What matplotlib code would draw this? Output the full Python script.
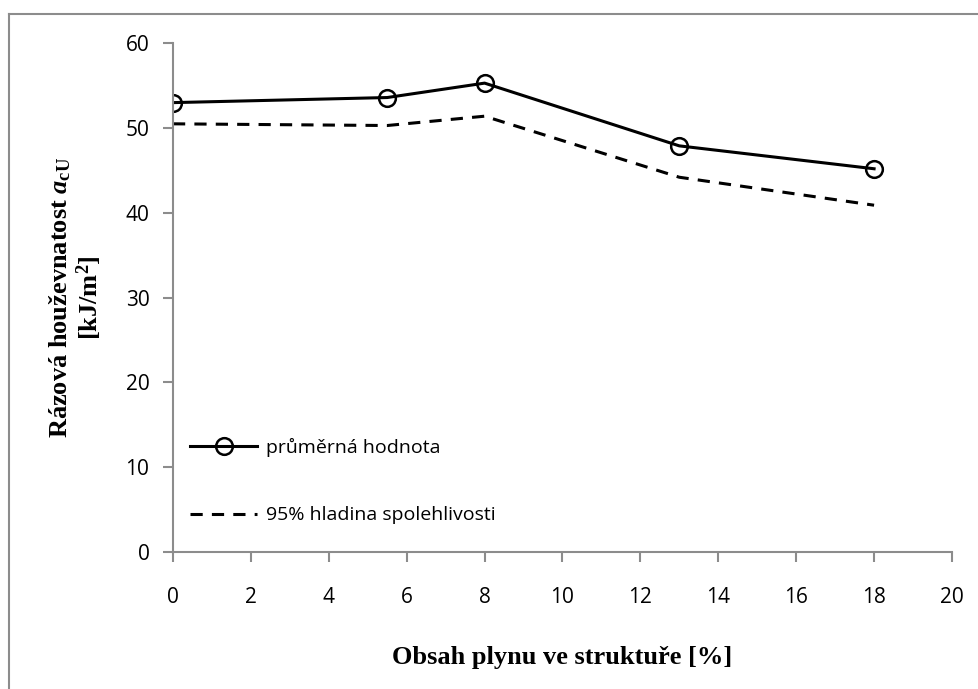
import matplotlib
matplotlib.use("Agg")
import matplotlib.pyplot as plt
from matplotlib.lines import Line2D

# data
gas_content = [0, 5.5, 8, 13, 18]
mean_value = [53.0, 53.6, 55.3, 47.9, 45.2]
conf_95 = [50.5, 50.3, 51.4, 44.2, 40.9]

x_ticks = list(range(0, 21, 2))
y_ticks = list(range(0, 61, 10))

plt.rcParams.update(
    {
        "font.family": ["Open Sans", "DejaVu Sans"],
        "mathtext.fontset": "custom",
        "mathtext.rm": "Liberation Serif:bold",
        "mathtext.it": "Liberation Serif:italic:bold",
        "mathtext.bf": "Liberation Serif:bold",
    }
)

fig = plt.figure(figsize=(9.79, 6.89), dpi=100)
ax = fig.add_axes([0.1767, 0.1988, 0.7957, 0.7384])

ax.plot(gas_content, mean_value, color="black", lw=2.2, marker="o", ms=12,
        mfc="none", mec="black", mew=1.8, label="průměrná hodnota")
ax.plot(gas_content, conf_95, color="black", lw=2.2, ls=(0, (4, 3)),
        label="95% hladina spolehlivosti")

ax.set_xlim(0, 20)
ax.set_ylim(0, 60)
ax.set_xticks(x_ticks)
ax.set_yticks(y_ticks)

grey = "#8c8c8c"
for side in ("top", "right"):
    ax.spines[side].set_visible(False)
for side in ("left", "bottom"):
    ax.spines[side].set_color(grey)
    ax.spines[side].set_linewidth(1.5)
ax.tick_params(axis="both", colors=grey, width=1.5, length=7, labelcolor="black",
               labelsize=15)
ax.tick_params(axis="x", pad=18)
ax.tick_params(axis="y", pad=10)
ax.patch.set_visible(False)

ax.set_xlabel("Obsah plynu ve struktuře [%]", family="Liberation Serif",
              weight="bold", fontsize=19)
ax.xaxis.set_label_coords(0.5, -0.185)
ax.set_ylabel("Rázová houževnatost $a_{\\mathrm{cU}}$\n[kJ/m$^2$]",
              family="Liberation Serif", weight="bold", fontsize=19,
              linespacing=1.1)
ax.yaxis.set_label_coords(-0.088, 0.5)

ax.legend(loc="lower left", bbox_to_anchor=(0.0, 0.02), frameon=False,
          handlelength=3.4, labelspacing=2.55, handletextpad=0.5,
          prop={"family": ["Open Sans", "DejaVu Sans"], "size": 14})

# outer chart frame (only top and left edges visible in the crop)
fig.add_artist(Line2D([9 / 979, 9 / 979], [0, 1 - 14 / 689], color=grey, lw=1.5))
fig.add_artist(Line2D([9 / 979, 1], [1 - 14 / 689, 1 - 14 / 689], color=grey, lw=1.5))

fig.savefig("out.png", dpi=100, facecolor="white")
